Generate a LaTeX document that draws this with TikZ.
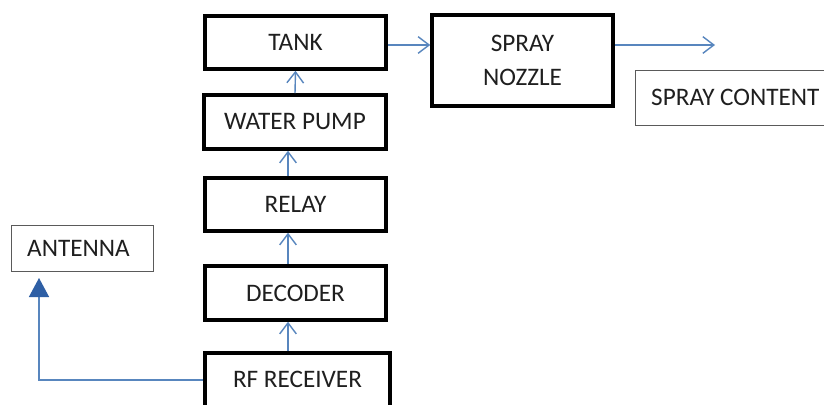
\documentclass[tikz,border=0pt]{standalone}
\usepackage{fontspec}
\setmainfont{Carlito}
\usetikzlibrary{arrows.meta}
\definecolor{arr}{RGB}{88,134,190}
\definecolor{antarr}{RGB}{46,95,165}
\definecolor{thinbd}{RGB}{90,90,90}
\begin{document}
\begin{tikzpicture}[x=0.03cm,y=-0.03cm,
  thickbox/.style={draw=black,line width=3pt,minimum width=181*0.03cm,minimum height=53*0.03cm,inner sep=0pt,font=\fontsize{21.5}{29}\selectfont,align=center,text=black!88},
  thinbox/.style={draw=thinbd,line width=0.7pt,inner sep=0pt,font=\fontsize{21.5}{26}\selectfont,text=black!88},
  flow/.style={draw=arr,line width=1.2pt,-{Straight Barb[length=0.33cm,width=0.5cm,line width=1.2pt]}},
  antflow/.style={draw=arr,line width=1.2pt,-{Triangle[length=0.57cm,width=0.6cm,fill=antarr,color=antarr]}}]
\useasboundingbox (0,0) rectangle (824,405);
\fill[white] (0,0) rectangle (824,405);
\clip (0,0) rectangle (824,405);
% boxes
\node[thickbox] (tank) at (295.5,42.5) {TANK};
\node[thickbox,minimum width=182*0.03cm,minimum height=54*0.03cm] (wp) at (295,122) {WATER PUMP};
\node[thickbox] (relay) at (295.5,204.5) {RELAY};
\node[thickbox,minimum height=54*0.03cm] (dec) at (295.5,293) {DECODER};
\node[thickbox,minimum width=185*0.03cm,minimum height=60*0.03cm,text depth=0pt] (rf) at (297.5,383) {\raisebox{6pt}{RF RECEIVER}};
\node[thickbox,minimum height=91*0.03cm] (noz) at (522.5,60.5) {SPRAY\\NOZZLE};
\node[thinbox,minimum width=196*0.03cm,minimum height=55*0.03cm] (sc) at (733,97.5) {\hspace*{4pt}SPRAY CONTENT};
\node[thinbox,minimum width=142*0.03cm,minimum height=46*0.03cm] (ant) at (82,248) {\hspace*{-6pt}ANTENNA};
% coordinates
\coordinate (vx) at (288,0);
\coordinate (out) at (715,45);
\coordinate (tip) at (39,278);
\coordinate (hy) at (0,45);
\coordinate (ry) at (0,380);
% connectors
\draw[flow] (tank.east |- hy) -- (noz.west |- hy);
\draw[flow] (noz.east |- out) -- (out);
\draw[flow] (wp.north) -- (tank.south);
\draw[flow] (relay.north -| vx) -- (wp.south -| vx);
\draw[flow] (dec.north -| vx) -- (relay.south -| vx);
\draw[flow] (rf.north -| vx) -- (dec.south -| vx);
\draw[antflow] (rf.west |- ry) -| (tip);
\end{tikzpicture}
\end{document}
